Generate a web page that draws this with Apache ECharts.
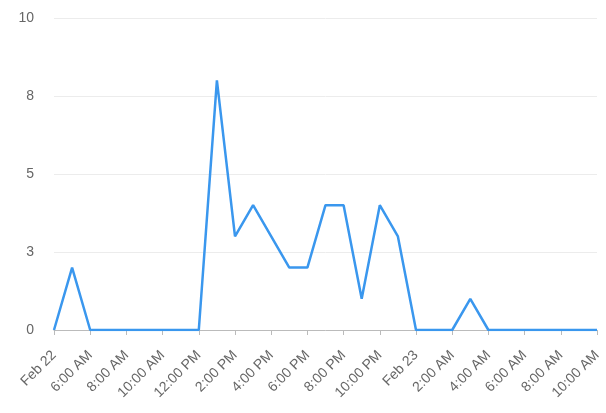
<!DOCTYPE html>
<html>
<head>
<meta charset="utf-8">
<script src="https://cdn.jsdelivr.net/npm/echarts@6/dist/echarts.min.js"></script>
<style>html,body{margin:0;padding:0;background:#fff}#c{width:606px;height:413px}</style>
</head>
<body>
<div id="c"></div>
<script>
var categories = ["Feb 22","5:00 AM","6:00 AM","7:00 AM","8:00 AM","9:00 AM","10:00 AM","11:00 AM","12:00 PM","1:00 PM","2:00 PM","3:00 PM","4:00 PM","5:00 PM","6:00 PM","7:00 PM","8:00 PM","9:00 PM","10:00 PM","11:00 PM","Feb 23","1:00 AM","2:00 AM","3:00 AM","4:00 AM","5:00 AM","6:00 AM","7:00 AM","8:00 AM","9:00 AM","10:00 AM"];
var values = [0,2,0,0,0,0,0,0,0,8,3,4,3,2,2,4,4,1,4,3,0,0,0,1,0,0,0,0,0,0,0];
var yMin = 0, yMax = 10, yInterval = 2.5;

var chart = echarts.init(document.getElementById('c'), null, {renderer:'canvas'});
chart.setOption({
  animation: false,
  textStyle: {fontFamily: 'Liberation Sans, Arial, sans-serif'},
  grid: {left: 54, right: 9, top: 18, bottom: 83, containLabel: false},
  xAxis: {
    type: 'category',
    data: categories,
    boundaryGap: false,
    axisLine: {show: true, lineStyle: {color: '#bbbbbb', width: 1}},
    axisTick: {show: true, interval: 1, length: 5, lineStyle: {color: '#bbbbbb'}},
    axisLabel: {interval: 1, rotate: 45, margin: 23, color: '#666666', fontSize: 14, fontFamily: 'Liberation Sans, Arial, sans-serif'},
    splitLine: {show: false}
  },
  yAxis: {
    type: 'value',
    min: yMin, max: yMax, interval: yInterval,
    axisLine: {show: false},
    axisTick: {show: false},
    axisLabel: {color: '#666666', fontSize: 14, margin: 20, formatter: function(v){ return String(Math.round(v)); }},
    splitLine: {show: true, lineStyle: {color: '#ececec', width: 1}}
  },
  series: [{
    type: 'line',
    data: values,
    showSymbol: false,
    symbol: 'none',
    lineStyle: {color: '#3a97ee', width: 2.5},
    itemStyle: {color: '#3a97ee'}
  }]
});
</script>
</body>
</html>
